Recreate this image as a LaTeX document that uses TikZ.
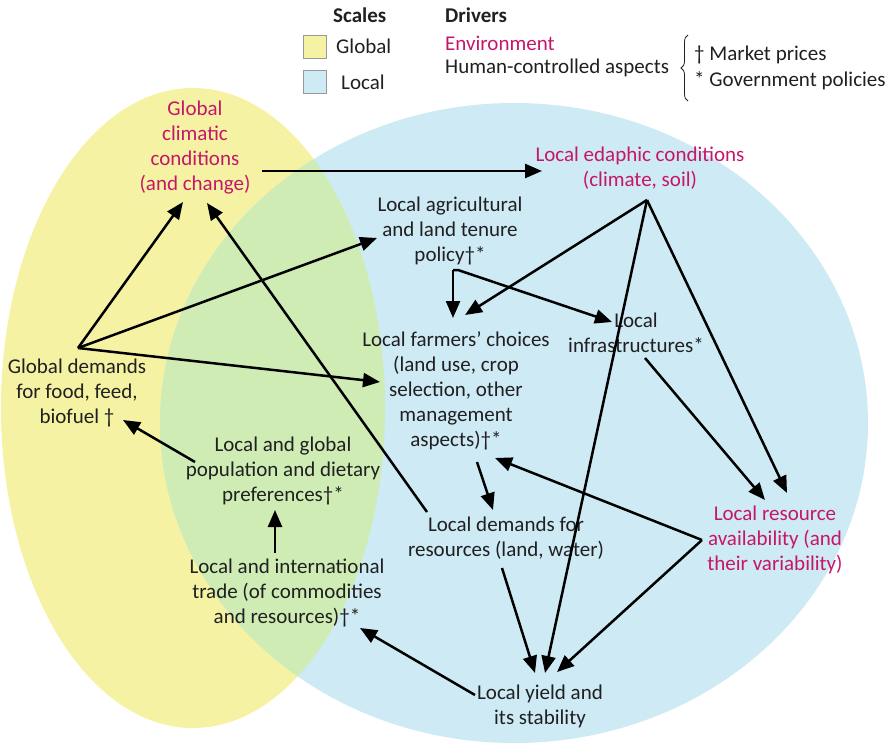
\documentclass[tikz,border=0pt]{standalone}
\usepackage{fontspec}
\setmainfont{Carlito}
\usetikzlibrary{arrows.meta,decorations.pathreplacing}
\definecolor{yel}{RGB}{245,243,163}
\definecolor{blu}{RGB}{206,234,244}
\definecolor{grn}{RGB}{206,236,180}
\definecolor{mag}{RGB}{198,22,106}
\definecolor{txt}{RGB}{32,32,32}
\begin{document}
\begin{tikzpicture}[x=1pt,y=-1pt,
  lbl/.style={align=center,text=txt,font=\fontsize{21}{25}\selectfont,inner sep=0pt},
  env/.style={lbl,text=mag},
  leg/.style={lbl,anchor=west},
  legb/.style={lbl,anchor=west,font=\fontsize{21}{25}\selectfont\bfseries},
  sbox/.style={draw=gray!80,line width=0.8pt,minimum width=23pt,minimum height=23pt,inner sep=0pt},
  arr/.style={line width=2.5pt,draw=black,-{Triangle[length=17pt,width=14pt]}}]
\useasboundingbox (0,0) rectangle (889,747);
% scales
\fill[yel] (193,408) ellipse [x radius=192, y radius=320];
\fill[blu] (514,423) ellipse [x radius=354, y radius=320];
\begin{scope}
  \clip (193,408) ellipse [x radius=192, y radius=320];
  \fill[grn] (514,423) ellipse [x radius=354, y radius=320];
\end{scope}
% legend
\node[legb] (scales) at (333,15) {Scales};
\node[sbox,fill=yel] (gbox) at (314.5,46.5) {};
\node[sbox,fill=blu] (lbox) at (314.5,82) {};
\node[leg] (glob) at (336,46) {Global};
\node[leg] (loc) at (341,82) {Local};
\node[legb] (drv) at (445,15) {Drivers};
\node[leg,text=mag] (envt) at (445,43) {Environment};
\node[leg] (hca) at (445,68) {Human-controlled aspects};
\node[leg] (mp) at (694,55) {† Market prices};
\node[leg] (gp) at (694,81) {* Government policies};
\draw[decorate,decoration={brace,amplitude=7pt},draw=txt,line width=0.8pt] (688,101) -- (688,35);
% nodes
\node[env] (gcc) at (195,148) {Global\\climatic\\conditions\\(and change)};
\node[env] (eda) at (640,168) {Local edaphic conditions\\(climate, soil)};
\node[lbl] (pol) at (450,231) {Local agricultural\\and land tenure\\policy†*};
\node[lbl] (farm) at (456,391) {Local farmers’ choices\\(land use, crop\\selection, other\\management\\aspects)†*};
\node[lbl] (infra) at (636,333) {Local\\infrastructures*};
\node[lbl] (gdem) at (77,393) {Global demands\\for food, feed,\\biofuel †};
\node[lbl] (pop) at (283,471) {Local and global\\population and dietary\\preferences†*};
\node[lbl] (trade) at (287,593) {Local and international\\trade (of commodities\\and resources)†*};
\node[lbl] (ldem) at (506,538) {Local demands for\\resources (land, water)};
\node[env] (res) at (775,540) {Local resource\\availability (and\\their variability)};
\node[lbl] (yld) at (540,706) {Local yield and\\its stability};
% connector points
\coordinate (gccout) at (262,171);
\coordinate (edain) at (542,171);
\coordinate (gdhub) at (78,348);
\coordinate (gccin1) at (183,202);
\coordinate (gccin2) at (207,203);
\coordinate (polin) at (377,238);
\coordinate (farmin1) at (380,382);
\coordinate (ldemout1) at (427,512);
\coordinate (polhub) at (453,270);
\coordinate (farmin2) at (453,318);
\coordinate (infrain) at (612,322);
\coordinate (edahub) at (647,200);
\coordinate (farmin3) at (465,315);
\coordinate (yldin1) at (535,673);
\coordinate (yldin2) at (545,673);
\coordinate (yldin3) at (557,672);
\coordinate (resin1) at (787,493);
\coordinate (resin2) at (765,500);
\coordinate (infraout) at (645,358);
\coordinate (reshub) at (702,540);
\coordinate (farmin4) at (495,458);
\coordinate (farmout) at (477,462);
\coordinate (ldemin) at (493,510);
\coordinate (ldemout2) at (502,568);
\coordinate (yldout) at (475,695);
\coordinate (tradein) at (360,628);
\coordinate (tradeout) at (275,553);
\coordinate (popin) at (275,510);
\coordinate (popout) at (195,462);
\coordinate (gdemin) at (123,420);
% connectors
\draw[arr] (gccout) -- (edain);
\draw[arr] (gdhub) -- (gccin1);
\draw[arr] (gdhub) -- (polin);
\draw[arr] (gdhub) -- (farmin1);
\draw[arr] (ldemout1) -- (gccin2);
\draw[arr] (polhub) -- (farmin2);
\draw[arr] (polhub) -- ++(5,0) -- (infrain);
\draw[arr] (edahub) -- (farmin3);
\draw[arr] (edahub) -- (yldin2);
\draw[arr] (edahub) -- (resin1);
\draw[arr] (infraout) -- (resin2);
\draw[arr] (reshub) -- (farmin4);
\draw[arr] (reshub) -- (yldin3);
\draw[arr] (farmout) -- (ldemin);
\draw[arr] (ldemout2) -- (yldin1);
\draw[arr] (yldout) -- (tradein);
\draw[arr] (tradeout) -- (popin);
\draw[arr] (popout) -- (gdemin);
\end{tikzpicture}
\end{document}
